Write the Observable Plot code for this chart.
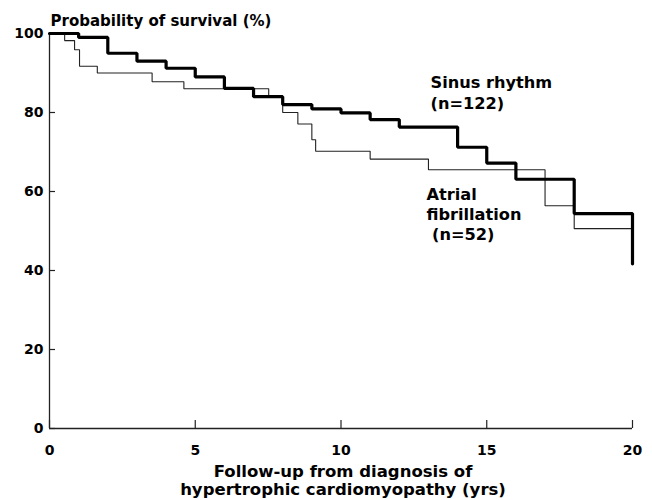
<!DOCTYPE html>
<html>
<head>
<meta charset="utf-8">
<script src="https://cdn.jsdelivr.net/npm/d3@7"></script>
<script src="https://cdn.jsdelivr.net/npm/@observablehq/plot@0.6"></script>
<style>
  html, body { margin: 0; padding: 0; background: #fff; }
  #chart svg { display: block; }
</style>
</head>
<body>
<div id="chart"></div>
<script>
// Sinus rhythm (n=122): step times (years) and survival (%)
const sinusYears    = [0, 1, 2, 3, 4, 5, 6, 7, 8, 9, 10, 11, 12, 14, 15, 16, 18, 20];
const sinusSurvival = [100, 99, 95, 93, 91.2, 89, 86.1, 84, 82, 80.9, 79.9, 78.2, 76.3, 71.2, 67.2, 63.1, 54.4, 41.7];

// Atrial fibrillation (n=52)
const afYears    = [0, 0.52, 0.86, 1.03, 1.64, 3.52, 4.61, 7.52, 8, 8.52, 9, 9.13, 11, 13, 17, 18, 20];
const afSurvival = [100, 98.2, 95.9, 91.7, 90, 87.8, 86, 83.9, 80, 77.1, 73.1, 70.2, 68.2, 65.5, 56.4, 50.6, 50.6];

const xTicks = [0, 5, 10, 15, 20];
const yTicks = [0, 20, 40, 60, 80, 100];

const yLabel = "Probability of survival (%)";
const xLabel = "Follow-up from diagnosis of\nhypertrophic cardiomyopathy (yrs)";
const sinusLabel = "Sinus rhythm\n(n=122)";
const afLabel = "Atrial\nfibrillation\n\u00a0(n=52)";

const sinus = sinusYears.map((t, i) => ({t, s: sinusSurvival[i]}));
const af = afYears.map((t, i) => ({t, s: afSurvival[i]}));

const W = 652, H = 500, ML = 49, MR = 20, MT = 33, MB = 72;
const frameW = W - ML - MR, frameH = H - MT - MB;

const chart = Plot.plot({
  width: W,
  height: H,
  marginLeft: ML,
  marginRight: MR,
  marginTop: MT,
  marginBottom: MB,
  style: {fontFamily: "DejaVu Sans", color: "#000", background: "#fff"},
  x: {domain: [0, 20], axis: null},
  y: {domain: [0, 100], axis: null},
  marks: [
    Plot.ruleX([0], {stroke: "#222", strokeWidth: 1.3}),
    Plot.ruleY([0], {stroke: "#222", strokeWidth: 1.3}),
    Plot.tickY(yTicks, {y: d => d, insetRight: frameW - 6, stroke: "#222", strokeWidth: 1.2}),
    Plot.text(yTicks, {y: d => d, text: d => String(d), frameAnchor: "left", textAnchor: "end", dx: -6, fontSize: 14, fontWeight: "bold", fill: "#000"}),
    Plot.tickX(xTicks, {x: d => d, insetTop: frameH - 8, stroke: "#222", strokeWidth: 1.2}),
    Plot.text(xTicks, {x: d => d, text: d => String(d), frameAnchor: "bottom", lineAnchor: "top", dy: 17, fontSize: 14, fontWeight: "bold", fill: "#000"}),
    Plot.line(af, {x: "t", y: "s", curve: "step-after", stroke: "#222", strokeWidth: 1.1, strokeLinejoin: "miter"}),
    Plot.line(sinus, {x: "t", y: "s", curve: "step-after", stroke: "#000", strokeWidth: 3.2, strokeLinejoin: "miter"}),
    Plot.text([sinusLabel], {x: 13.07, y: 80.8, textAnchor: "start", lineAnchor: "bottom", lineHeight: 1.3, fontSize: 16.2, fontWeight: "bold", fill: "#000"}),
    Plot.text([afLabel], {x: 12.93, y: 47.6, textAnchor: "start", lineAnchor: "bottom", lineHeight: 1.235, fontSize: 16.2, fontWeight: "bold", fill: "#000"}),
    Plot.text([yLabel], {frameAnchor: "top-left", textAnchor: "start", lineAnchor: "bottom", dx: 1, dy: -8, fontSize: 15, fontWeight: "bold", fill: "#000"}),
    Plot.text([xLabel], {frameAnchor: "bottom", textAnchor: "middle", lineAnchor: "bottom", dx: 2, dy: 66, lineHeight: 1.06, fontSize: 16.5, fontWeight: "bold", fill: "#000"})
  ]
});

document.getElementById("chart").append(chart);
</script>
</body>
</html>
